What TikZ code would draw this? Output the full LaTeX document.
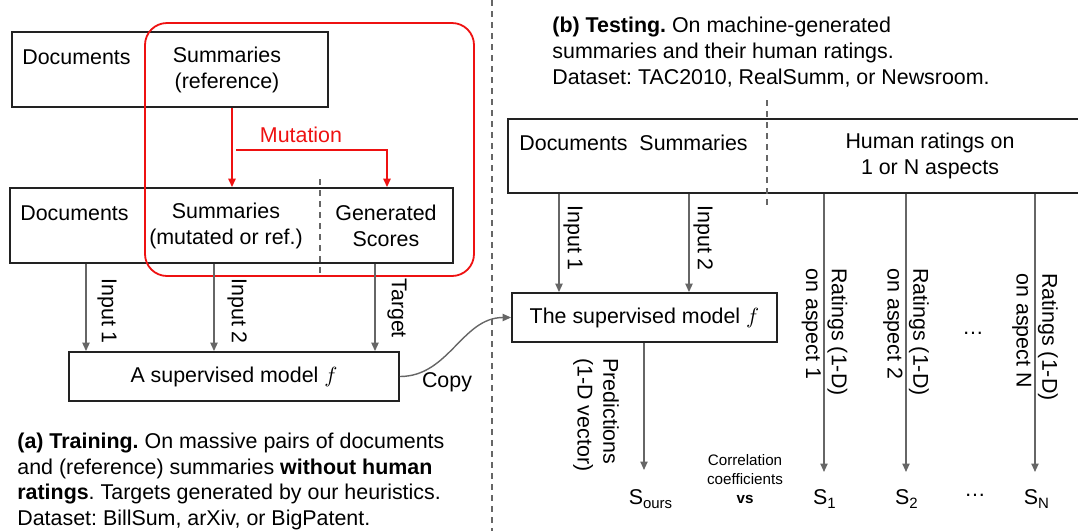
\documentclass[tikz,border=0pt]{standalone}
\usepackage{fontspec}
\setmainfont{Liberation Sans}
\usetikzlibrary{arrows.meta}
\definecolor{arrgray}{HTML}{666666}
\definecolor{boxline}{HTML}{222222}
\definecolor{mutred}{HTML}{EE1111}
\frenchspacing
\begin{document}
\begin{tikzpicture}[x=0.5pt,y=-0.5pt,
  every node/.style={font=\fontsize{10.7}{12.9}\selectfont, inner sep=0pt},
  box/.style={draw=boxline, line width=0.9pt, inner sep=0pt},
  txt/.style={align=center},
  conn/.style={draw=arrgray, line width=0.7pt, -{Triangle[length=4.2pt,width=3.6pt]}},
  rotlab/.style={rotate=-90, anchor=west, align=left},
  mut/.style={draw=mutred, line width=0.9pt, -{Triangle[length=4.2pt,width=3.6pt]}},
  dashln/.style={draw=arrgray, line width=0.6pt, dash pattern=on 3pt off 2.5pt},
  small/.style={font=\fontsize{7.6}{9.6}\selectfont, align=center}]
\useasboundingbox (0,0) rectangle (1078,531);

% ---------------- left panel: training ----------------
\node[box, minimum width=158pt, minimum height=37.5pt] (topbox) at (170,69.5) {};
\node[anchor=west] (tdoc) at (22,57) {Documents};
\node[txt] (tsum) at (227,70) {Summaries\\(reference)};

\node[box, minimum width=221.5pt, minimum height=37.5pt] (boxB) at (231.5,225.5) {};
\node[anchor=west] (bdoc) at (20,213) {Documents};
\node[txt] (bsum) at (226,226) {Summaries\\(mutated or ref.)};
\node[txt] (bgen) at (386,226) {Generated\\Scores};
\coordinate (dashA1) at (320,179);
\coordinate (dashA2) at (320,276);
\draw[dashln] (dashA1) -- (dashA2);

% red mutation region
\draw[mutred, line width=0.9pt, rounded corners=11pt] (145,23) rectangle (474,276);
\coordinate (mx) at (232,0);
\coordinate (brA) at (236,150);
\coordinate (gx) at (387,0);
\draw[mut] (topbox.south -| mx) -- (boxB.north -| mx);
\draw[mut] (brA) -| (boxB.north -| gx);
\node[text=mutred] (mutlab) at (301,135) {Mutation};

% model (training)
\node[box, minimum width=165pt, minimum height=24.5pt] (modelA) at (234,376.5) {A supervised model $f$};
\coordinate (ia1) at (86,0);
\coordinate (ia2) at (214,0);
\coordinate (ta) at (375,0);
\draw[conn] (boxB.south -| ia1) -- (modelA.north -| ia1);
\draw[conn] (boxB.south -| ia2) -- (modelA.north -| ia2);
\draw[conn] (boxB.south -| ta) -- (modelA.north -| ta);
\node[rotlab] (la1) at (107,278) {Input 1};
\node[rotlab] (la2) at (237,278) {Input 2};
\node[rotlab] (lat) at (397,278) {Target};

\node[anchor=west, align=left] (capA) at (17,481.5) {\textbf{(a) Training.} On massive pairs of documents\\and (reference) summaries \textbf{without human}\\\textbf{ratings}. Targets generated by our heuristics.\\Dataset: BillSum, arXiv, or BigPatent.};

% divider
\coordinate (divT) at (492,0);
\coordinate (divB) at (492,531);
\draw[dashln] (divT) -- (divB);

% ---------------- right panel: testing ----------------
\node[anchor=west, align=left] (capB) at (552,52) {\textbf{(b) Testing.} On machine-generated\\summaries and their human ratings.\\Dataset: TAC2010, RealSumm, or Newsroom.};

\node[box, minimum width=287pt, minimum height=37pt] (bigbox) at (795,156) {};
\node[anchor=west] (rdocsum) at (519,143) {Documents\ \ Summaries};
\node[txt] (rhum) at (930,156) {Human ratings on\\1 or N aspects};
\coordinate (dashB1) at (767,100);
\coordinate (dashB2) at (767,208);
\draw[dashln] (dashB1) -- (dashB2);

\node[box, minimum width=132.5pt, minimum height=24.5pt] (modelB) at (644.5,317.5) {The supervised model $f$};
\coordinate (ib1) at (559,0);
\coordinate (ib2) at (689,0);
\draw[conn] (bigbox.south -| ib1) -- (modelB.north -| ib1);
\draw[conn] (bigbox.south -| ib2) -- (modelB.north -| ib2);
\node[rotlab] (lb1) at (573,205) {Input 1};
\node[rotlab] (lb2) at (703,205) {Input 2};

% copy connector
\draw[conn] (modelA.east) to[out=0,in=180] (modelB.west);
\node (copy) at (447,382) {Copy};

% predictions
\node (sours) at (651,499) {S\textsubscript{ours}};
\coordinate (px) at (644,0);
\coordinate (pend) at (644,470);
\draw[conn] (modelB.south -| px) -- (pend);
\node[rotlab] (lpred) at (596,358) {Predictions\\(1-D vector)};

\node[small] (corr) at (745,479) {Correlation\\coefficients\\\textbf{vs}};

% human ratings
\node (s1) at (825,499) {S\textsubscript{1}};
\node (s2) at (907,499) {S\textsubscript{2}};
\node (sdots) at (975,495) {\ldots};
\node (sN) at (1037,499) {S\textsubscript{N}};
\coordinate (r1) at (824,472);
\coordinate (r2) at (906,472);
\coordinate (rN) at (1035,472);
\draw[conn] (bigbox.south -| r1) -- (r1);
\draw[conn] (bigbox.south -| r2) -- (r2);
\draw[conn] (bigbox.south -| rN) -- (rN);
\node[rotlab] (lr1) at (824.5,268) {Ratings (1-D)\\on aspect 1};
\node[rotlab] (lr2) at (906,268) {Ratings (1-D)\\on aspect 2};
\node[rotlab] (lrN) at (1035,273) {Ratings (1-D)\\on aspect N};
\node (rdots) at (973,333) {\ldots};
\end{tikzpicture}
\end{document}
